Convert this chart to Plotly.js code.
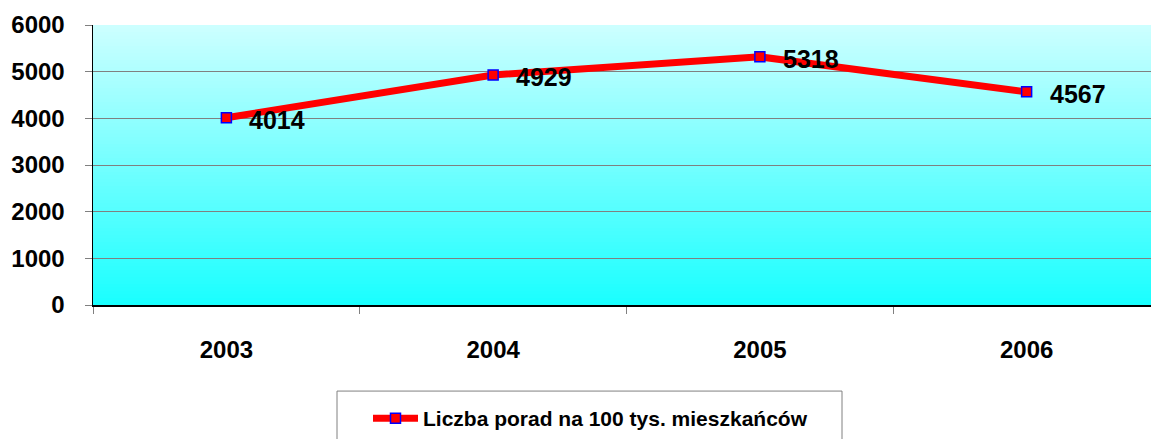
<!DOCTYPE html>
<html>
<head>
<meta charset="utf-8">
<script src="https://cdn.plot.ly/plotly-3.0.1.min.js"></script>
<style>html,body{margin:0;padding:0;background:#fff;overflow:hidden}#chart{width:1151px;height:439px}</style>
</head>
<body>
<div id="chart"></div>
<script>
const years = ['2003', '2004', '2005', '2006'];
const values = [4014, 4929, 5318, 4567];
const labels = ['4014', '4929', '5318', '4567'];
const seriesName = 'Liczba porad na 100 tys. mieszkańców';
const yTicks = [0, 1000, 2000, 3000, 4000, 5000, 6000];

const fontFam = 'Liberation Sans, Arial, sans-serif';

// vertical gradient background bands
const shapes = [];
const nBands = 80;
const gradTop = [204, 255, 255], gradBot = [26, 255, 255];
for (let i = 0; i < nBands; i++) {
  const t = i / (nBands - 1);
  const c = gradTop.map((v, k) => Math.round(v + (gradBot[k] - v) * t));
  shapes.push({
    type: 'rect', xref: 'x domain', yref: 'y domain', layer: 'below',
    x0: 0, x1: 1, y1: 1 - i / nBands, y0: 1 - (i + 1) / nBands - 0.002,
    fillcolor: 'rgb(' + c.join(',') + ')', line: {width: 0}
  });
}
// legend box (extends beyond bottom)
shapes.push({
  type: 'rect', xref: 'paper', yref: 'paper', layer: 'above',
  x0: (337 - 93) / 1058, x1: (842 - 93) / 1058,
  y0: (308 - 460) / 283, y1: (308 - 395) / 283,
  fillcolor: 'rgba(0,0,0,0)', line: {color: '#808080', width: 1}
});

// data labels: category axis positions are category indices
const annotations = years.map((yr, i) => ({
  x: years.indexOf(yr), y: values[i], xref: 'x', yref: 'y', text: labels[i],
  showarrow: false, xanchor: 'left', yanchor: 'middle', xshift: 21, yshift: -2,
  font: {family: fontFam, size: 25, color: '#000', weight: 'bold'}
}));

const trace = {
  x: years, y: values, type: 'scatter', mode: 'lines+markers', name: seriesName,
  line: {color: '#ff0000', width: 7},
  marker: {symbol: 'square', size: 10, color: '#ff0000', line: {color: '#0000ff', width: 1.5}},
  cliponaxis: false
};

const layout = {
  width: 1151, height: 439,
  margin: {l: 93, r: 0, t: 25, b: 131, pad: 0},
  paper_bgcolor: '#ffffff', plot_bgcolor: '#1affff',
  showlegend: true,
  legend: {
    orientation: 'h', x: (368 - 93) / 1058, xanchor: 'left',
    y: (308 - 423) / 283, yanchor: 'middle',
    itemwidth: 45,
    font: {family: fontFam, size: 21, color: '#000', weight: 'bold'},
    bgcolor: 'rgba(0,0,0,0)', borderwidth: 0
  },
  xaxis: {
    type: 'category', range: [-0.5, -0.5 + 1058 / 266.75],
    tickson: 'boundaries', ticks: 'outside', ticklen: 7, tickcolor: '#808080', tickwidth: 1,
    showgrid: false, zeroline: false,
    showline: true, linecolor: '#000', linewidth: 2,
    tickfont: {family: fontFam, size: 24, color: '#000', weight: 'bold'},
    ticklabelstandoff: 22, fixedrange: true
  },
  yaxis: {
    range: [0, 6000], tickvals: yTicks, ticktext: yTicks.map(String),
    ticks: 'outside', ticklen: 7, tickcolor: '#808080', tickwidth: 1,
    showgrid: true, gridcolor: '#808080', gridwidth: 1,
    zeroline: false, showline: true, linecolor: '#000', linewidth: 1.5,
    tickfont: {family: fontFam, size: 24, color: '#000', weight: 'bold'},
    ticklabelstandoff: 15, fixedrange: true
  },
  shapes: shapes,
  annotations: annotations
};

Plotly.newPlot('chart', [trace], layout, {displayModeBar: false, staticPlot: true});
</script>
</body>
</html>
